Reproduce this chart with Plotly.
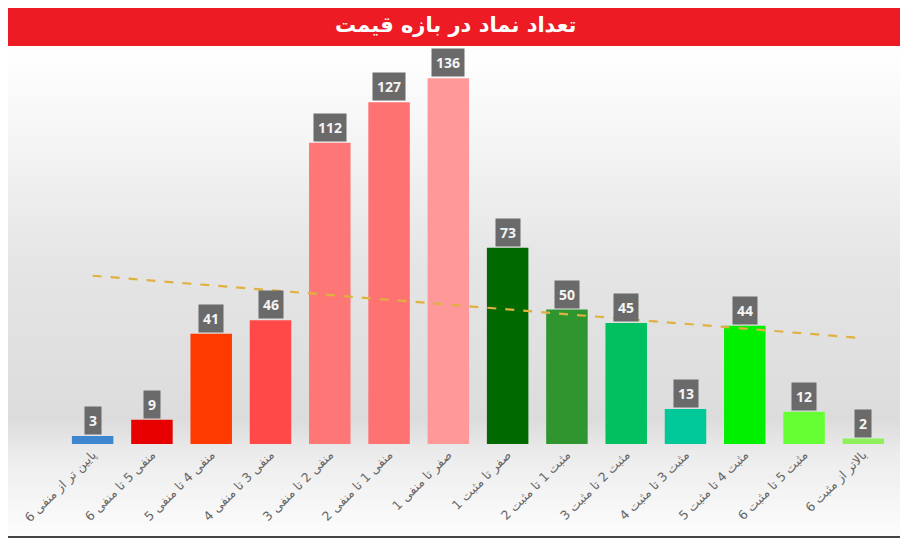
import numpy as np
import plotly.graph_objects as go

title_text = "تعداد نماد در بازه قیمت"
categories = [
    "پایین تر از منفی 6",
    "منفی 5 تا منفی 6",
    "منفی 4 تا منفی 5",
    "منفی 3 تا منفی 4",
    "منفی 2 تا منفی 3",
    "منفی 1 تا منفی 2",
    "صفر تا منفی 1",
    "صفر تا مثبت 1",
    "مثبت 1 تا مثبت 2",
    "مثبت 2 تا مثبت 3",
    "مثبت 3 تا مثبت 4",
    "مثبت 4 تا مثبت 5",
    "مثبت 5 تا مثبت 6",
    "بالاتر از مثبت 6",
]
counts = [3, 9, 41, 46, 112, 127, 136, 73, 50, 45, 13, 44, 12, 2]
bar_colors = [
    "#3f86d0", "#e80000", "#ff3a00", "#ff4848", "#ff7676", "#ff7272", "#ff9898",
    "#006a00", "#2f952f", "#00c060", "#00c898", "#00f000", "#66ff33", "#8ef05a",
]

W, H = 908, 541
OFF = 8  # page body margin
# target page-pixel geometry
PL, PR, PT, PB = 63, 893, 50, 444
ML = PL - OFF
MT = PT - OFF
MR = W - (PR - OFF)
MB = H - (PB - OFF)
plot_w = PR - PL
plot_h = PB - PT


def px_x(px):
    return (px - PL) / plot_w


def px_y(py):
    return (PB - py) / plot_h


# linear trendline fitted to the counts
idx = np.arange(len(counts))
slope, intercept = np.polyfit(idx, counts, 1)
trend = slope * idx + intercept

fig = go.Figure()
fig.add_trace(go.Bar(
    x=categories, y=counts, marker=dict(color=bar_colors, line=dict(width=0)),
    width=0.7, hoverinfo="x+y", showlegend=False,
))
fig.add_trace(go.Scatter(
    x=categories, y=trend, mode="lines",
    line=dict(color="#e0b040", width=2.2, dash="dash"),
    hoverinfo="skip", showlegend=False,
))

# background gradient bands
stops = [(46, (255, 255, 255)), (130, (246, 246, 246)), (260, (229, 229, 229)),
         (420, (220, 220, 220)), (455, (236, 236, 236)), (537, (253, 253, 253))]
shapes = []
y0 = 46
step = 4
while y0 < 537:
    y1 = min(y0 + step, 537)
    ym = (y0 + y1) / 2
    for k in range(len(stops) - 1):
        if stops[k][0] <= ym <= stops[k + 1][0]:
            t = (ym - stops[k][0]) / (stops[k + 1][0] - stops[k][0])
            c = [round(stops[k][1][j] + t * (stops[k + 1][1][j] - stops[k][1][j])) for j in range(3)]
            break
    shapes.append(dict(type="rect", xref="paper", yref="paper", layer="below",
                       x0=px_x(3), x1=px_x(906), y0=px_y(y1 + 0.5), y1=px_y(y0),
                       fillcolor="rgb(%d,%d,%d)" % tuple(c), line=dict(width=0)))
    y0 = y1

# title bar
shapes.append(dict(type="rect", xref="paper", yref="paper", layer="above",
                   x0=px_x(3), x1=px_x(906), y0=px_y(46), y1=px_y(5),
                   fillcolor="#ed1c24", line=dict(width=0)))
# frame lines
shapes.append(dict(type="line", xref="paper", yref="paper", x0=px_x(3.5), x1=px_x(3.5),
                   y0=px_y(537), y1=px_y(46), line=dict(color="#333333", width=2)))
shapes.append(dict(type="line", xref="paper", yref="paper", x0=px_x(3), x1=px_x(906),
                   y0=px_y(537), y1=px_y(537), line=dict(color="#444444", width=2)))

annotations = [dict(
    xref="paper", yref="paper", x=px_x(455), y=px_y(25), text="<b>%s</b>" % title_text,
    showarrow=False, font=dict(family="DejaVu Sans", size=21, color="white"),
    xanchor="center", yanchor="middle",
)]
for cat, v in zip(categories, counts):
    annotations.append(dict(
        x=cat, y=v, xref="x", yref="y", text="<b>%d</b>" % v, showarrow=False,
        yanchor="bottom", yshift=1, bgcolor="#6a6a6a", borderpad=4,
        font=dict(family="Open Sans", size=14, color="#f4f4f4"),
    ))

fig.update_layout(
    width=W, height=H, margin=dict(l=ML, r=MR, t=MT, b=MB),
    paper_bgcolor="white", plot_bgcolor="rgba(0,0,0,0)",
    bargap=0.3, shapes=shapes, annotations=annotations, showlegend=False,
    xaxis=dict(range=[-0.5, 13.5], tickangle=-45, showgrid=False, showline=False,
               ticks="", tickfont=dict(family="DejaVu Sans", size=12.5, color="#666666")),
    yaxis=dict(range=[0, plot_h / 2.69], visible=False, showgrid=False),
)

fig.write_html("out.html")
